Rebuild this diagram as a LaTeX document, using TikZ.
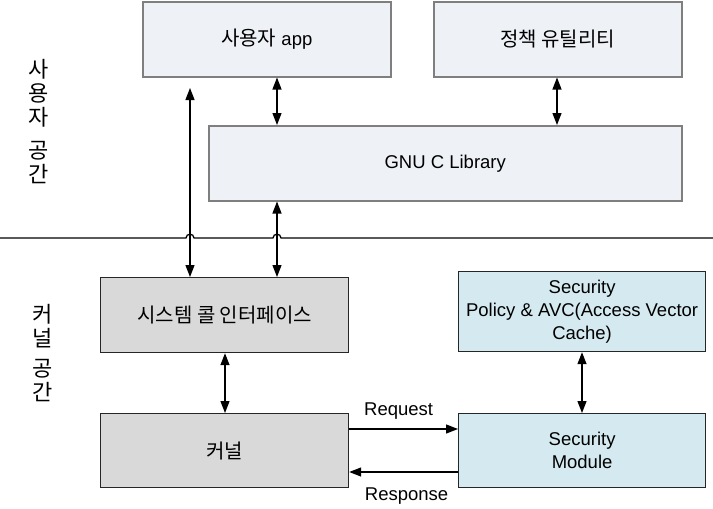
\documentclass[tikz,border=0pt]{standalone}
\usepackage{fontspec}
\setmainfont{Liberation Sans}
\newfontfamily\kr{Noto Sans CJK KR}
\newcommand\krtext{\kr\fontsize{20}{24}\selectfont}
\usetikzlibrary{arrows.meta}
\definecolor{topfill}{HTML}{EEF1F6}
\definecolor{topdraw}{HTML}{7F7F7F}
\definecolor{grayfill}{HTML}{D9D9D9}
\definecolor{bluefill}{HTML}{D5EAF0}
\begin{document}
\begin{tikzpicture}[x=1pt,y=-1pt,
  box/.style={rectangle, inner sep=0pt, anchor=north west, align=center,
    font=\fontsize{18.5}{23}\selectfont},
  ubox/.style={box, fill=topfill, draw=topdraw, line width=1.5pt},
  kbox/.style={box, fill=grayfill, draw=black!85, line width=1.2pt},
  sbox/.style={box, fill=bluefill, draw=black!85, line width=1.2pt},
  arr/.style={line width=1.3pt, {Triangle[length=12pt,width=9pt]}-{Triangle[length=12pt,width=9pt]}},
  sarr/.style={line width=1.3pt, -{Triangle[length=12pt,width=9pt]}},
  side/.style={font=\kr\fontsize{22}{24}\selectfont, align=center, inner sep=0pt},
  lbl/.style={font=\fontsize{18.5}{23}\selectfont, inner sep=0pt}
]
\useasboundingbox (0,0) rectangle (713,509);

% boxes
\node[ubox, minimum width=248pt, minimum height=75pt] (app) at (142,1) {{\krtext 사용자} app};
\node[ubox, minimum width=248pt, minimum height=75pt] (util) at (433,1) {\krtext 정책 유틸리티};
\node[ubox, minimum width=473pt, minimum height=75pt] (glibc) at (208,125) {GNU C Library};
\node[kbox, minimum width=248pt, minimum height=75pt] (syscall) at (100,277) {\krtext 시스템 콜 인터페이스};
\node[kbox, minimum width=248pt, minimum height=74pt] (kernel) at (100,413) {\krtext 커널};
\node[sbox, minimum width=247pt, minimum height=80pt] (secpol) at (458,271) {Security\\Policy \& AVC(Access Vector\\Cache)};
\node[sbox, minimum width=247pt, minimum height=74pt] (secmod) at (458,413) {Security\\Module};

% side labels
\node[side] (ulabel) at (39,122) {사\\용\\자\\[9pt]공\\간};
\node[side] (klabel) at (43,353) {커\\널\\[6pt]공\\간};

% boundary line with hops
\draw[line width=1.3pt] (0,238) -- (186,238) .. controls (186,233) and (194,233) .. (194,238)
  -- (273,238) .. controls (273,233) and (281,233) .. (281,238) -- (713,238);

% helper coordinates
\coordinate (xa) at (190,88);
\coordinate (xb) at (277,0);
\coordinate (xc) at (557,0);
\coordinate (xd) at (225,0);
\coordinate (xe) at (582,0);
\coordinate (yreq) at (0,429);
\coordinate (yres) at (0,472);

% connectors
\draw[arr] (xa) -- (xa |- syscall.north);
\draw[arr] (app.south -| xb) -- (glibc.north -| xb);
\draw[arr] (glibc.south -| xb) -- (syscall.north -| xb);
\draw[arr] (util.south -| xc) -- (glibc.north -| xc);
\draw[arr] (syscall.south -| xd) -- (kernel.north -| xd);
\draw[arr] (secpol.south -| xe) -- (secmod.north -| xe);
\draw[sarr] (kernel.east |- yreq) -- node[lbl, midway, above=9pt, xshift=-5pt] (req) {Request} (secmod.west |- yreq);
\draw[sarr] (secmod.west |- yres) -- node[lbl, midway, below=15pt, xshift=3pt] (res) {Response} (kernel.east |- yres);
\end{tikzpicture}
\end{document}
